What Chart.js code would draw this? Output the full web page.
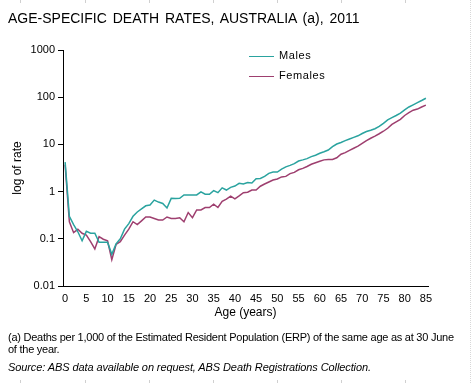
<!DOCTYPE html>
<html>
<head>
<meta charset="utf-8">
<script src="https://cdn.jsdelivr.net/npm/chart.js@4"></script>
<style>
  html, body { margin: 0; padding: 0; background: #fff; }
  #wrap { position: relative; width: 471px; height: 383px; overflow: hidden;
          font-family: "Liberation Sans", Arial, sans-serif; color: #000; }
  #wrap canvas { position: absolute; left: 0; top: 0; }
  .txt { position: absolute; white-space: nowrap; }
  #title { left: 8px; top: 10px; font-size: 14px; word-spacing: 2px; }
  .leg { position: absolute; font-size: 11px; letter-spacing: 0.6px; }
  .leg i { position: absolute; left: -30px; top: 7px; width: 25px; height: 0; border-top: 1.5px solid; }
  #note { left: 8px; top: 331px; font-size: 11px; line-height: 12px; letter-spacing: -0.25px; }
  #src { left: 8px; top: 361px; font-size: 11px; font-style: italic; letter-spacing: -0.1px; }
  /* faint sheet grid marks round the picture */
  #edge { position: absolute; left: 470px; top: 0; height: 383px; border-left: 1px dotted #d8d8d8; }
  .mk { position: absolute; width: 1px; height: 3px; background: #d0d0d0; }
</style>
</head>
<body>
<div id="wrap">
  <canvas id="deathChart" width="471" height="383"></canvas>
  <div id="title" class="txt">AGE-SPECIFIC DEATH RATES, AUSTRALIA (a), 2011</div>
  <div class="leg" style="left:279px; top:49px;"><i style="border-color:#2aa39f"></i>Males</div>
  <div class="leg" style="left:279px; top:69px;"><i style="border-color:#9e3f6f"></i>Females</div>
  <div id="note" class="txt">(a) Deaths per 1,000 of the Estimated Resident Population (ERP) of the same age as at 30 June<br>of the year.</div>
  <div id="src" class="txt">Source: ABS data available on request, ABS Death Registrations Collection.</div>
  <div id="edge"></div>
</div>

<script>
/* Ages 0..85, one category each */
const AGES = Array.from({ length: 86 }, (_, i) => String(i));

/* Deaths per 1,000 ERP (log scale) */
const MALES = [
  4.2, 0.3, 0.2, 0.141, 0.091, 0.144, 0.131, 0.131, 0.084, 0.084,
  0.084, 0.047, 0.078, 0.1, 0.16, 0.21, 0.3, 0.37, 0.43, 0.5,
  0.52, 0.66, 0.6, 0.56, 0.45, 0.72, 0.71, 0.72, 0.85, 0.85,
  0.85, 0.85, 0.99, 0.88, 0.88, 1.05, 0.95, 1.2, 1.08, 1.23,
  1.31, 1.5, 1.45, 1.55, 1.52, 1.88, 1.9, 2.1, 2.44, 2.6,
  2.6, 3.0, 3.35, 3.6, 3.9, 4.45, 4.7, 5.0, 5.5, 5.9,
  6.5, 7.0, 7.6, 9.0, 10.2, 11.0, 12.0, 13.0, 14.1, 15.2,
  17, 18.7, 20, 21.5, 24, 28, 33, 37, 41, 46,
  54, 62, 69, 77, 85, 95,
];
const FEMALES = [
  3.7, 0.23, 0.135, 0.159, 0.131, 0.12, 0.087, 0.061, 0.111, 0.098,
  0.091, 0.036, 0.076, 0.087, 0.12, 0.16, 0.23, 0.2, 0.24, 0.29,
  0.29, 0.27, 0.25, 0.25, 0.29, 0.27, 0.27, 0.28, 0.23, 0.36,
  0.28, 0.41, 0.41, 0.46, 0.46, 0.54, 0.46, 0.62, 0.69, 0.8,
  0.7, 0.81, 0.95, 0.97, 1.08, 1.08, 1.3, 1.45, 1.6, 1.76,
  1.85, 2.05, 2.1, 2.4, 2.55, 2.9, 3.1, 3.4, 3.8, 4.1,
  4.4, 4.7, 4.8, 4.8, 5.2, 6.2, 6.7, 7.5, 8.3, 9.2,
  10.5, 12, 13.5, 15, 16.8, 19, 22, 26.5, 30, 34,
  41, 47, 53, 56, 62, 68,
];

/* Y ticks, one per decade */
const Y_TICKS = [0.01, 0.1, 1, 10, 100, 1000];

const MALE_COLOR   = '#2aa39f';
const FEMALE_COLOR = '#9e3f6f';
const FONT = { family: '"Liberation Sans", Arial, sans-serif', size: 11 };

/* faint marks of the sheet grid along top and bottom */
[20, 85, 149, 213, 277, 341, 405].forEach(x => {
  ['0px', '380px'].forEach(top => {
    const d = document.createElement('div');
    d.className = 'mk';
    d.style.left = x + 'px';
    d.style.top = top;
    document.getElementById('wrap').appendChild(d);
  });
});

new Chart(document.getElementById('deathChart'), {
  type: 'line',
  data: {
    labels: AGES,
    datasets: [
      { label: 'Males',   data: MALES,   borderColor: MALE_COLOR,   borderWidth: 1.5, pointRadius: 0, tension: 0 },
      { label: 'Females', data: FEMALES, borderColor: FEMALE_COLOR, borderWidth: 1.5, pointRadius: 0, tension: 0 },
    ],
  },
  options: {
    responsive: false,
    animation: false,
    layout: { padding: { left: 0, top: 50, right: 43, bottom: 63 } },
    plugins: { legend: { display: false }, tooltip: { enabled: false } },
    scales: {
      x: {
        type: 'category',
        offset: true,
        grid: { display: false, drawTicks: false },
        border: { display: true, color: '#000', width: 1 },
        ticks: {
          autoSkip: false, maxRotation: 0, color: '#000', font: FONT, padding: 6,
          callback: (v, i) => (i % 5 === 0 ? AGES[i] : ''),
        },
        title: { display: true, text: 'Age (years)', color: '#000', font: { ...FONT, size: 12 }, padding: { top: 2, bottom: 0 } },
        afterFit: s => { s.height = 34; },
      },
      y: {
        type: 'logarithmic',
        min: 0.01,
        max: 1000,
        afterBuildTicks: s => { s.ticks = Y_TICKS.map(v => ({ value: v })); },
        grid: { drawOnChartArea: false, drawTicks: true, tickLength: 5, color: '#000' },
        border: { display: true, color: '#000', width: 1 },
        ticks: { color: '#000', font: FONT, padding: 3, callback: v => String(v) },
        title: { display: true, text: 'log of rate', color: '#000', font: { ...FONT, size: 12 }, padding: { top: 10, bottom: 0 } },
        afterFit: s => { s.width = 63; },
      },
    },
  },
});
</script>
</body>
</html>
